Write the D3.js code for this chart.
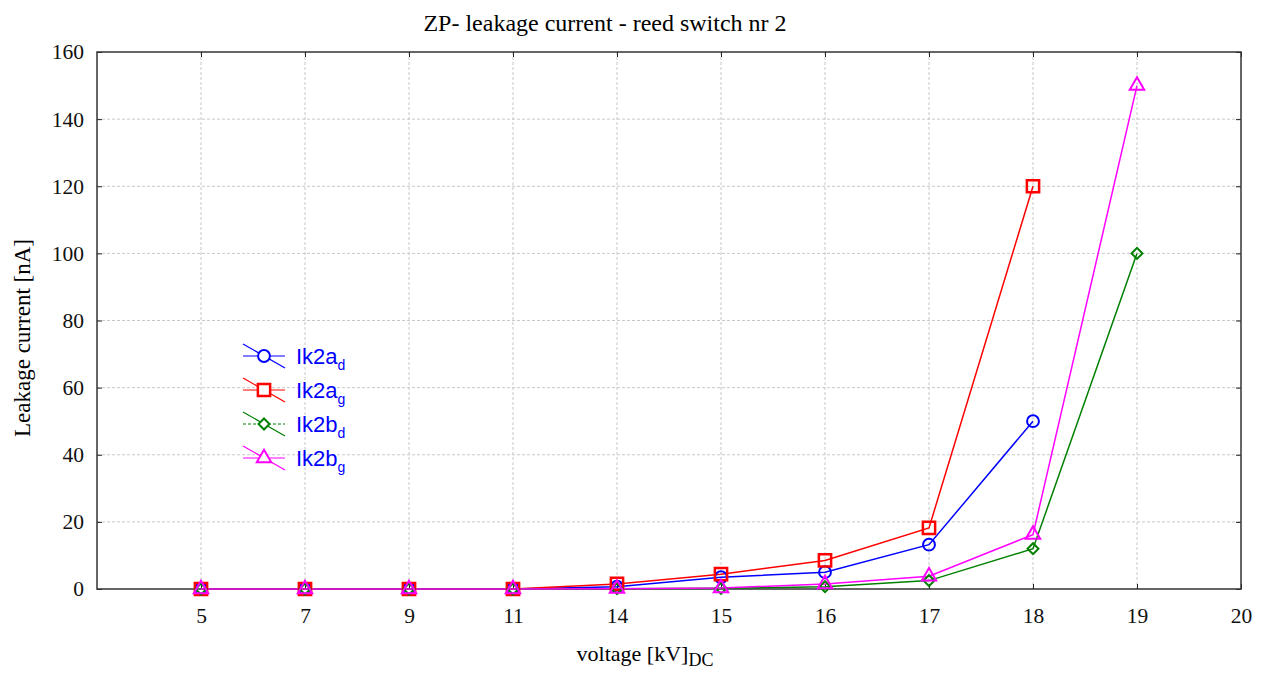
<!DOCTYPE html>
<html>
<head>
<meta charset="utf-8">
<script src="https://cdn.jsdelivr.net/npm/d3@7"></script>
<style>
  body { margin: 0; background: #fff; }
  .grid line { stroke: #c8c8c8; stroke-dasharray: 3,2; stroke-width: 1; }
</style>
</head>
<body>
<div id="chart"></div>
<script>
// categorias del eje x (la primera vacia deja el hueco a la izquierda)
const voltages = ["", "5", "7", "9", "11", "14", "15", "16", "17", "18", "19", "20"]
const yTicks = [0, 20, 40, 60, 80, 100, 120, 140, 160]

// valores [nA]
const volt2ad = ["5", "7", "9", "11", "14", "15", "16", "17", "18"]
const ik2ad = [0, 0, 0, 0, 0.7, 3.5, 5.0, 13.2, 50]
const volt2ag = ["5", "7", "9", "11", "14", "15", "16", "17", "18"]
const ik2ag = [0, 0, 0, 0, 1.5, 4.4, 8.5, 18.2, 120]
const volt2bd = ["5", "7", "9", "11", "14", "15", "16", "17", "18", "19"]
const ik2bd = [0, 0, 0, 0, 0.1, 0.2, 0.7, 2.5, 12, 100]
const volt2bg = ["5", "7", "9", "11", "14", "15", "16", "17", "18", "19"]
const ik2bg = [0, 0, 0, 0, 0.1, 0.3, 1.5, 3.8, 16.2, 150]

const seriesNames = ["Ik2a", "Ik2a", "Ik2b", "Ik2b"]
const seriesSubs = ["d", "g", "d", "g"]

const SERIF = "Liberation Serif, Times New Roman, DejaVu Serif, serif"
const SANS = "Liberation Sans, Arial, sans-serif"

const width = 1267
const height = 673
const margin = { top: 52, bottom: 84, left: 97, right: 26 }

const svg = d3.select("#chart").append("svg")
    .attr("width", width)
    .attr("height", height)

const x = d3.scalePoint().domain(voltages).range([margin.left, width - margin.right])
const y = d3.scaleLinear().domain([0, 160]).range([height - margin.bottom, margin.top])

const plotL = margin.left, plotR = width - margin.right
const plotT = margin.top, plotB = height - margin.bottom

// rejilla
const grid = svg.append("g").attr("class", "grid")
grid.selectAll("line.v").data(voltages.slice(1, -1)).enter().append("line")
    .attr("x1", d => x(d)).attr("x2", d => x(d))
    .attr("y1", plotT).attr("y2", plotB)
grid.selectAll("line.h").data(yTicks.slice(1, -1)).enter().append("line")
    .attr("x1", plotL).attr("x2", plotR)
    .attr("y1", d => y(d)).attr("y2", d => y(d))

// ejes
const xAxis = d3.axisBottom(x).tickValues(voltages.slice(1)).tickSize(-5).tickPadding(19)
const xTop = d3.axisTop(x).tickValues(voltages.slice(1)).tickSize(-5).tickFormat("")
const yAxis = d3.axisLeft(y).tickValues(yTicks).tickSize(-5).tickPadding(13)
const yRight = d3.axisRight(y).tickValues(yTicks).tickSize(-5).tickFormat("")

function styleAxis(g) {
    g.attr("font-family", null).attr("font-size", null)
    g.select(".domain").remove()
    g.selectAll(".tick line").attr("stroke", "#222")
    g.selectAll(".tick text").attr("fill", "#111")
        .style("font-family", SERIF).style("font-size", "21.5px")
}
svg.append("g").attr("transform", `translate(0,${plotB})`).call(xAxis).call(styleAxis)
svg.append("g").attr("transform", `translate(0,${plotT})`).call(xTop).call(styleAxis)
svg.append("g").attr("transform", `translate(${plotL},0)`).call(yAxis).call(styleAxis)
svg.append("g").attr("transform", `translate(${plotR},0)`).call(yRight).call(styleAxis)

svg.append("rect")
    .attr("x", plotL).attr("y", plotT)
    .attr("width", plotR - plotL).attr("height", plotB - plotT)
    .attr("fill", "none").attr("stroke", "#333").attr("stroke-width", 1.5)

// series
const series = [
    { xs: volt2ad, vals: ik2ad, color: "#0000ff", marker: "circle" },
    { xs: volt2ag, vals: ik2ag, color: "#ff0000", marker: "square" },
    { xs: volt2bd, vals: ik2bd, color: "#008000", marker: "diamond" },
    { xs: volt2bg, vals: ik2bg, color: "#ff00ff", marker: "triangle" }
]

const symbols = {
    circle: d3.symbol().type(d3.symbolCircle).size(110),
    square: d3.symbol().type(d3.symbolSquare).size(150),
    diamond: d3.symbol().type(d3.symbolSquare).size(60),
    triangle: d3.symbol().type(d3.symbolTriangle).size(90)
}
const rot = m => m === "diamond" ? " rotate(45)" : ""

const line = d3.line().x(d => x(d[0])).y(d => y(d[1]))

const plot = svg.append("g")
series.forEach(s => {
    const pts = s.xs.map((v, i) => [v, s.vals[i]])
    plot.append("path").datum(pts)
        .attr("fill", "none").attr("stroke", s.color).attr("stroke-width", 1.5)
        .attr("d", line)
})
series.forEach(s => {
    const pts = s.xs.map((v, i) => [v, s.vals[i]])
    plot.selectAll(null).data(pts).enter().append("path")
        .attr("d", symbols[s.marker])
        .attr("transform", d => `translate(${x(d[0])},${y(d[1])})${rot(s.marker)}`)
        .attr("fill", "none").attr("stroke", s.color)
        .attr("stroke-width", s.marker === "square" ? 2.5 : 2)
})

// leyenda
const legend = svg.append("g").attr("transform", "translate(243,356)")
series.forEach((s, i) => {
    const g = legend.append("g").attr("transform", `translate(0,${i * 34})`)
    g.append("line").attr("x1", 0).attr("x2", 42).attr("y1", 0).attr("y2", 0)
        .attr("stroke", s.color).attr("stroke-width", 1.2)
        .attr("stroke-dasharray", i === 2 ? "3,2" : null)
    g.append("line").attr("x1", 0).attr("x2", 42).attr("y1", -12).attr("y2", 12)
        .attr("stroke", s.color).attr("stroke-width", 1.2)
    g.append("path").attr("d", symbols[s.marker]).attr("transform", `translate(21,0)${rot(s.marker)}`)
        .attr("fill", "#fff").attr("stroke", s.color)
        .attr("stroke-width", s.marker === "square" ? 2.5 : 2)
    const t = g.append("text").attr("x", 53).attr("y", 8)
        .style("font-family", SANS)
        .style("font-size", "22px").attr("fill", "#0000ff")
    t.append("tspan").text(seriesNames[i])
    t.append("tspan").attr("dy", 6).style("font-size", "14px").text(seriesSubs[i])
})

// titulos
svg.append("text").style("font-family", SERIF).style("font-size", "24px")
    .attr("x", 605).attr("y", 31).attr("text-anchor", "middle")
    .text("ZP- leakage current - reed switch nr 2")

const xl = svg.append("text").style("font-family", SERIF).style("font-size", "22px")
    .attr("x", 645).attr("y", 661).attr("text-anchor", "middle")
xl.append("tspan").text("voltage [kV]")
xl.append("tspan").attr("dy", 5).style("font-size", "18px").text("DC")

svg.append("text").style("font-family", SERIF).style("font-size", "23px")
    .attr("transform", "translate(30,338) rotate(-90)")
    .attr("text-anchor", "middle")
    .text("Leakage current [nA]")
</script>
</body>
</html>
